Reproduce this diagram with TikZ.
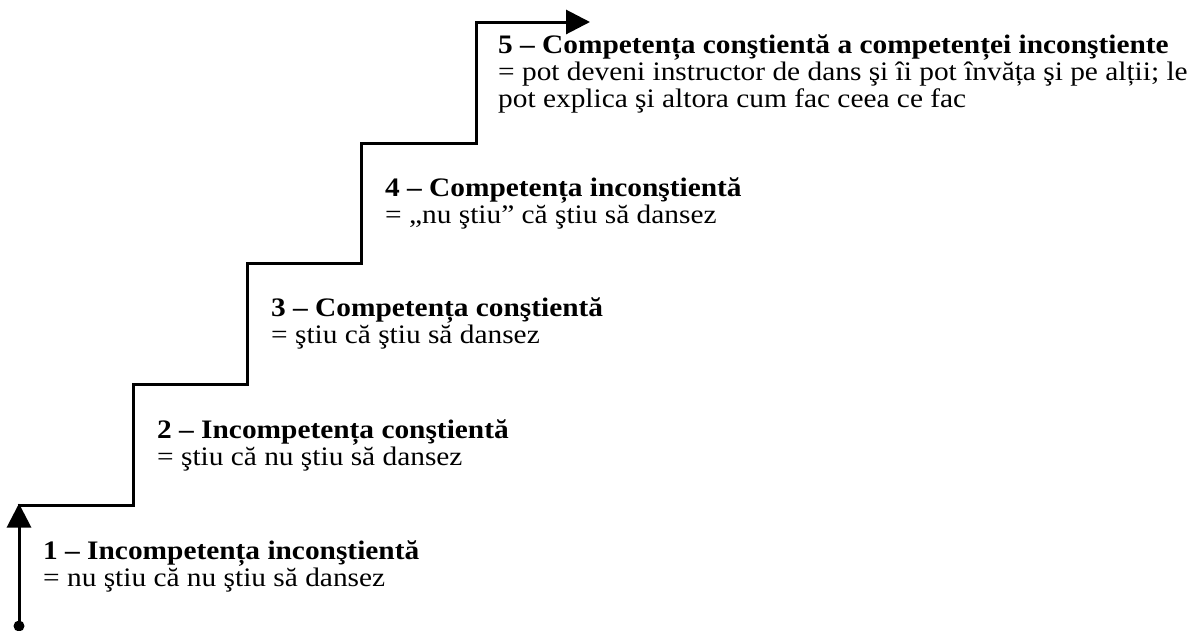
\documentclass[tikz,border=0pt]{standalone}
\usepackage{fontspec}
\setmainfont[FakeStretch=1.1]{Liberation Serif}
\usetikzlibrary{arrows.meta}

\begin{document}
\begin{tikzpicture}[x=1pt,y=-1pt,
		stair/.style={line width=3pt,line join=miter},
		tip/.style={-{Triangle[length=24pt,width=24pt]}},
		level/.style={anchor=base west,inner sep=0pt,align=left,
			font=\fontsize{26.7}{27}\selectfont}]
		\useasboundingbox (0,0) rectangle (1191,630);

		% Corners of the stair.
		\coordinate (s0) at (19,626);
		\coordinate (s1) at (19,505);		\coordinate (s1r) at (133,505);
		\coordinate (s2) at (133,384);		\coordinate (s2r) at (247,384);
		\coordinate (s3) at (247,263);		\coordinate (s3r) at (361,263);
		\coordinate (s4) at (361,143);		\coordinate (s4r) at (476,143);
		\coordinate (s5) at (476,22);		\coordinate (end) at (590,22);

		% Draw start point and first arrow.
		\fill (s0) circle (5.5pt);
		\draw[stair,tip] (s0) -- ([yshift=1.5pt]s1);

		% Draw the stair.
		\draw[stair,tip] ([xshift=-1.5pt]s1) -- (s1r) -- (s2) -- (s2r) -- (s3) -- (s3r) -- (s4) -- (s4r) -- (s5) -- (end);

		% Levels (anchored at the last line).
		\node[level] (l1) at (43,586) {\textbf{1 – Incompetența inconştientă}\\= nu ştiu că nu ştiu să dansez};
		\node[level] (l2) at (157,465) {\textbf{2 – Incompetența conştientă}\\= ştiu că nu ştiu să dansez};
		\node[level] (l3) at (271,343) {\textbf{3 – Competența conştientă}\\= ştiu că ştiu să dansez};
		\node[level] (l4) at (385,223) {\textbf{4 – Competența inconştientă}\\= „nu ştiu” că ştiu să dansez};
		\node[level] (l5) at (498,107) {\textbf{5 – Competența conştientă a competenței inconştiente}\\= pot deveni instructor de dans şi îi pot învăța şi pe alții; le\\pot explica şi altora cum fac ceea ce fac};
	\end{tikzpicture}
\end{document}
